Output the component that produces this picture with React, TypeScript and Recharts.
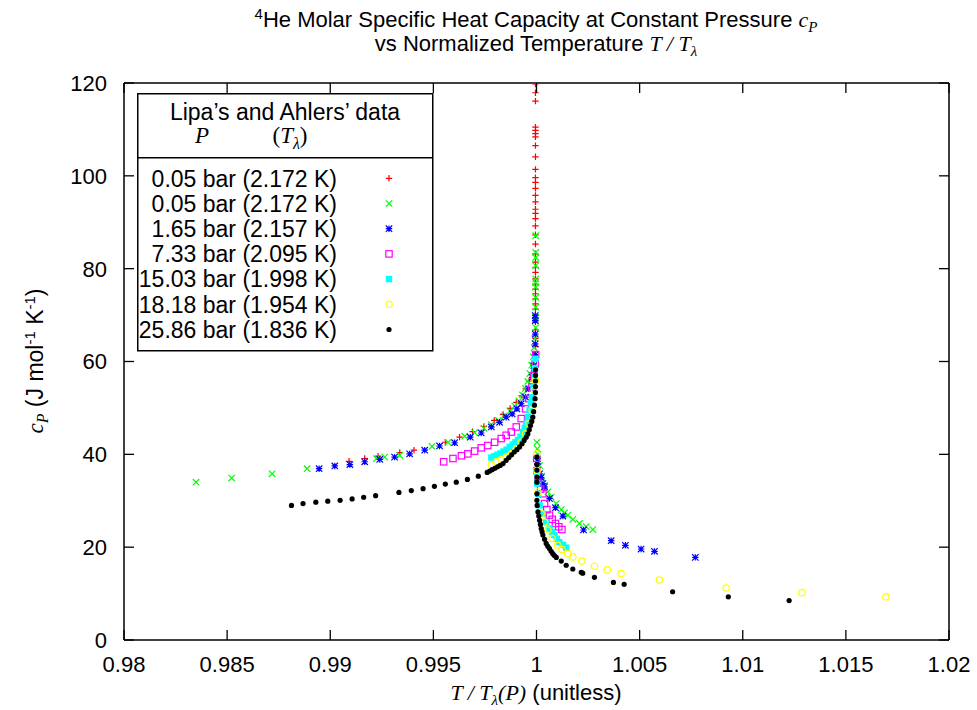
import React from 'react';
import { ScatterChart, Scatter, XAxis, YAxis, Legend } from 'recharts';

const X_TICKS = [0.98, 0.985, 0.99, 0.995, 1, 1.005, 1.01, 1.015, 1.02];
const X_TICK_LABELS = ['0.98', '0.985', '0.99', '0.995', '1', '1.005', '1.01', '1.015', '1.02'];
const Y_TICKS = [0, 20, 40, 60, 80, 100, 120];
const Y_TICK_LABELS = ['0', '20', '40', '60', '80', '100', '120'];

// Lipa 0.05 bar (+)
const lipa005: [number, number][] = [
  [0.99091, 38.5], [0.99167, 39.1], [0.99232, 39.6], [0.99337, 40.4], [0.99406, 40.9],
  [0.99558, 42.6], [0.99627, 43.7], [0.9969, 44.9], [0.99745, 46.0], [0.99795, 47.3],
  [0.99838, 48.6], [0.99872, 49.9], [0.99902, 51.2], [0.99928, 52.6], [0.99948, 54.1],
  [0.99964, 55.8], [0.99976, 57.6], [0.99985, 59.4], [0.99991, 61.3],
  [0.99995, 63.2], [0.99995, 65.0], [0.99995, 66.8], [0.99995, 68.5], [0.99995, 70.1],
  [0.99995, 71.3], [0.99995, 72.4], [0.99995, 73.5], [0.99995, 74.6], [0.99995, 75.6],
  [0.99995, 76.7], [0.99995, 77.8], [0.99995, 79.2], [0.99995, 80.3], [0.99995, 81.4],
  [0.99995, 83.2], [0.99995, 85.3], [0.99995, 87.3], [0.99995, 89.2], [0.99995, 90.8],
  [0.99995, 91.9], [0.99995, 92.8], [0.99995, 94.4], [0.99995, 95.8], [0.99995, 97.3],
  [0.99995, 98.6], [0.99995, 99.6], [0.99995, 101.4], [0.99995, 104.1], [0.99995, 106.5],
  [0.99995, 108.4], [0.99995, 109.1], [0.99995, 109.8], [0.99995, 110.5], [0.99995, 116.1],
  [0.99995, 117.9], [0.99995, 119.8],
];

// Ahlers 0.05 bar (x)
const ahlers005: [number, number][] = [
  [0.98349, 34.0], [0.98522, 34.9], [0.98718, 35.8], [0.98888, 36.9], [0.99224, 39.1],
  [0.99264, 39.4], [0.99337, 39.8], [0.99493, 41.7], [0.99571, 42.6], [0.99652, 43.9],
  [0.997, 44.7], [0.99745, 45.6], [0.99781, 46.4], [0.99815, 47.3], [0.99845, 48.3],
  [0.99872, 49.3], [0.99895, 50.4], [0.99915, 51.5], [0.99932, 52.8], [0.99946, 54.2],
  [0.99958, 55.7], [0.99968, 57.4], [0.99977, 59.2], [0.99984, 61.0], [0.99989, 63.0],
  [0.99993, 65.0], [0.99996, 67.3], [0.99996, 69.5], [0.99996, 71.7], [0.99996, 73.8],
  [0.99996, 76.0], [0.99996, 77.0], [0.99996, 77.8], [0.99996, 80.6], [0.99996, 82.4],
  [0.99996, 83.5], [0.99996, 87.1],
  [1.00002, 42.6], [1.00004, 41.2], [1.00007, 40.0], [1.00015, 37.6], [1.00025, 35.3],
  [1.00039, 33.3], [1.00055, 31.9], [1.00071, 30.8], [1.00096, 29.4], [1.0012, 28.1],
  [1.00136, 27.4], [1.00152, 26.9], [1.00176, 26.0], [1.00208, 25.1], [1.00241, 24.4],
  [1.00273, 23.8],
];

// 1.65 bar (*)
const ahlers165: [number, number][] = [
  [0.98946, 36.9], [0.99022, 37.5], [0.99095, 37.8], [0.99167, 38.4], [0.9924, 38.9],
  [0.99312, 39.4], [0.99385, 40.1], [0.99458, 40.9], [0.9953, 41.8], [0.99603, 42.5],
  [0.99679, 43.7], [0.99732, 44.6], [0.99781, 45.9], [0.99821, 46.9], [0.99853, 48.0],
  [0.99882, 48.7], [0.99905, 49.8], [0.99926, 50.9], [0.99947, 52.3], [0.99963, 54.1],
  [0.99979, 56.6], [0.99987, 59.1], [0.99994, 61.5], [0.99994, 63.8], [0.99994, 65.9],
  [0.99994, 68.8], [0.99994, 69.9],
  [1.00005, 38.5], [1.00015, 35.8], [1.00023, 35.0], [1.00031, 33.7], [1.00039, 33.0],
  [1.00063, 30.5], [1.00092, 28.5], [1.00128, 26.7], [1.00228, 23.7], [1.00362, 21.4],
  [1.00431, 20.4], [1.00507, 19.6], [1.00572, 19.1], [1.0077, 17.8],
];

// 7.33 bar (open square)
const ahlers733: [number, number][] = [
  [0.9955, 38.4], [0.99595, 39.1], [0.99636, 39.7], [0.99667, 40.1], [0.997, 40.7],
  [0.99732, 41.4], [0.99764, 41.9], [0.99797, 42.6], [0.99829, 43.4], [0.99853, 44.1],
  [0.99878, 44.8], [0.99902, 45.9], [0.99926, 47.7], [0.99947, 49.8], [0.99963, 52.0],
  [0.99978, 54.5], [0.99988, 57.0], [0.99994, 59.5], [0.99996, 61.5],
  [1.00001, 39.1], [1.00003, 36.5], [1.00007, 34.0], [1.0002, 32.5], [1.00031, 31.5],
  [1.00039, 29.4], [1.0005, 28.1], [1.00063, 26.9], [1.00076, 26.0], [1.00092, 25.1],
  [1.00108, 24.4], [1.00123, 23.8],
];

// 15.03 bar (filled square)
const ahlers1503: [number, number][] = [
  [0.99781, 39.3], [0.99795, 39.6], [0.9981, 39.9], [0.99825, 40.2], [0.9984, 40.6],
  [0.99855, 41.0], [0.9987, 41.6], [0.99885, 42.1], [0.99898, 42.6], [0.9991, 43.1],
  [0.99922, 43.8], [0.99934, 44.8], [0.99943, 45.7], [0.9995, 46.6], [0.99958, 48.0],
  [0.99966, 49.5], [0.99973, 51.0], [0.99979, 52.3], [0.99985, 54.5], [0.9999, 56.6],
  [0.99993, 58.6], [0.99995, 60.6],
  [1.00002, 36.0], [1.00003, 33.7], [1.00008, 31.5], [1.00015, 29.0], [1.00031, 27.2],
  [1.00047, 25.4], [1.00063, 24.0], [1.00075, 23.3], [1.00087, 22.6], [1.00099, 21.8],
  [1.00111, 21.1], [1.00128, 20.5], [1.00144, 19.9],
];

// 18.18 bar (open circle)
const ahlers1818: [number, number][] = [
  [0.99781, 37.8], [0.99805, 38.4], [0.99829, 38.9], [0.99853, 39.4], [0.99878, 40.1],
  [0.99902, 41.2], [0.99926, 42.6], [0.99947, 44.4], [0.99963, 46.6], [0.99979, 49.5],
  [0.9999, 53.8], [0.99995, 55.9],
  [1.00001, 40.1], [1.00003, 36.5], [1.00007, 31.9], [1.00023, 27.2], [1.00039, 25.4],
  [1.00055, 23.7], [1.00076, 21.9], [1.00103, 20.4], [1.00124, 19.5], [1.00152, 18.6],
  [1.00176, 17.9], [1.0022, 17.0], [1.00281, 15.9], [1.00343, 15.1], [1.0041, 14.3],
  [1.00596, 12.9], [1.0092, 11.2], [1.01287, 10.2], [1.01694, 9.3],
];

// 25.86 bar (filled circle)
const ahlers2586: [number, number][] = [
  [0.98812, 29.0], [0.98868, 29.4], [0.9893, 29.7], [0.98988, 29.9], [0.99048, 30.1],
  [0.99106, 30.4], [0.99162, 30.75], [0.9922, 31.1], [0.99333, 31.8], [0.99393, 32.2],
  [0.9945, 32.6], [0.99505, 33.1], [0.99558, 33.6], [0.99611, 34.0], [0.99665, 34.6],
  [0.99718, 35.3], [0.99761, 36.1], [0.99773, 36.4], [0.99785, 36.7], [0.99798, 37.0],
  [0.99811, 37.3], [0.99824, 37.6], [0.99838, 38.0], [0.99853, 38.7], [0.99866, 39.3],
  [0.99879, 39.9], [0.99892, 40.5], [0.99905, 41.0], [0.99918, 41.6], [0.9993, 42.3],
  [0.9994, 43.0], [0.9995, 43.7], [0.99958, 44.4], [0.99965, 45.3], [0.99971, 46.2],
  [0.99977, 47.1], [0.99982, 48.0], [0.99986, 49.2], [0.9999, 50.6], [0.99993, 52.0],
  [0.99995, 53.3], [0.99995, 54.6], [0.99995, 55.8], [0.99995, 57.0], [0.99995, 58.2],
  [1.00002, 39.4], [1.00002, 37.8], [1.00002, 36.6], [1.00002, 35.1], [1.00002, 34.0],
  [1.00002, 31.5], [1.00002, 30.1], [1.00003, 29.0], [1.00007, 27.6], [1.00011, 26.7],
  [1.00015, 25.8], [1.00019, 24.9], [1.00023, 24.0], [1.00027, 23.3], [1.00031, 22.6],
  [1.00039, 21.7], [1.00047, 20.8], [1.00055, 20.2], [1.00063, 19.7], [1.00071, 19.1],
  [1.00079, 18.6], [1.00087, 18.2], [1.00096, 17.8], [1.0012, 17.0], [1.00144, 16.1],
  [1.00176, 15.3], [1.00217, 14.6], [1.00224, 14.4], [1.00281, 13.5], [1.00373, 12.4],
  [1.00425, 12.0], [1.0066, 10.4], [1.0093, 9.3], [1.01225, 8.5],
];

type Kind = 'plus' | 'cross' | 'star' | 'square' | 'fsquare' | 'circle' | 'fcircle';

const SERIES: { name: string; data: [number, number][]; color: string; kind: Kind }[] = [
  { name: '0.05 bar (2.172 K)', data: lipa005, color: '#ff0000', kind: 'plus' },
  { name: '0.05 bar (2.172 K)', data: ahlers005, color: '#00ff00', kind: 'cross' },
  { name: '1.65 bar (2.157 K)', data: ahlers165, color: '#0000ff', kind: 'star' },
  { name: '7.33 bar (2.095 K)', data: ahlers733, color: '#ff00ff', kind: 'square' },
  { name: '15.03 bar (1.998 K)', data: ahlers1503, color: '#00ffff', kind: 'fsquare' },
  { name: '18.18 bar (1.954 K)', data: ahlers1818, color: '#ffff00', kind: 'circle' },
  { name: '25.86 bar (1.836 K)', data: ahlers2586, color: '#000000', kind: 'fcircle' },
];

const SANS = "'Liberation Sans', Arial, Helvetica, sans-serif";
const SERIF = "'Liberation Serif', 'Times New Roman', serif";
const FS = 22;
const LFS = 23;

function Marker({ kind, cx, cy, color }: { kind: Kind; cx: number; cy: number; color: string }) {
  if (cx == null || cy == null || isNaN(cx) || isNaN(cy)) return null;
  const s = 3.2;
  switch (kind) {
    case 'plus':
      return <path d={`M${cx - s},${cy}H${cx + s}M${cx},${cy - s}V${cy + s}`} stroke={color} strokeWidth={1.2} fill="none" />;
    case 'cross':
      return <path d={`M${cx - s},${cy - s}L${cx + s},${cy + s}M${cx - s},${cy + s}L${cx + s},${cy - s}`} stroke={color} strokeWidth={1.2} fill="none" />;
    case 'star':
      return <path d={`M${cx - s},${cy}H${cx + s}M${cx},${cy - s}V${cy + s}M${cx - s},${cy - s}L${cx + s},${cy + s}M${cx - s},${cy + s}L${cx + s},${cy - s}`} stroke={color} strokeWidth={1.2} fill="none" />;
    case 'square':
      return <rect x={cx - s} y={cy - s} width={2 * s} height={2 * s} stroke={color} strokeWidth={1.2} fill="none" />;
    case 'fsquare':
      return <rect x={cx - s} y={cy - s} width={2 * s} height={2 * s} fill={color} />;
    case 'circle':
      return <circle cx={cx} cy={cy} r={s} stroke={color} strokeWidth={1.2} fill="none" />;
    case 'fcircle':
      return <circle cx={cx} cy={cy} r={2.6} fill={color} />;
  }
  return null;
}

const toPts = (arr: [number, number][]) => arr.map(([x, y]) => ({ x, y }));

const LeftTick = (props: any) => {
  const { x, y, payload } = props;
  const i = Y_TICKS.indexOf(payload.value);
  return (
    <g>
      <text x={x - 17} y={y} dy="0.36em" textAnchor="end" fontSize={FS} fontFamily={SANS} fill="#000">
        {i >= 0 ? Y_TICK_LABELS[i] : String(payload.value)}
      </text>
      <line x1={x} x2={x + 10} y1={y} y2={y} stroke="#000" strokeWidth={1.3} />
    </g>
  );
};
const RightTick = (props: any) => {
  const { x, y } = props;
  return <line x1={x - 10} x2={x} y1={y} y2={y} stroke="#000" strokeWidth={1.3} />;
};
const BottomTick = (props: any) => {
  const { x, y, payload } = props;
  const i = X_TICKS.findIndex((t) => Math.abs(t - payload.value) < 1e-9);
  return (
    <g>
      <text x={x} y={y + 24} dy="0.36em" textAnchor="middle" fontSize={FS} fontFamily={SANS} fill="#000">
        {i >= 0 ? X_TICK_LABELS[i] : String(payload.value)}
      </text>
      <line x1={x} x2={x} y1={y - 10} y2={y} stroke="#000" strokeWidth={1.3} />
    </g>
  );
};
const TopTick = (props: any) => {
  const { x, y } = props;
  return <line x1={x} x2={x} y1={y} y2={y + 10} stroke="#000" strokeWidth={1.3} />;
};

const LegendBox = () => {
  const rowY = [85.3, 110.5, 135.7, 160.9, 186.1, 211.3, 236.5];
  return (
    <svg width={297} height={259} style={{ overflow: 'visible' }}>
      <rect x={0.75} y={0.75} width={295} height={257} fill="none" stroke="#000" strokeWidth={1.5} />
      <line x1={0.75} x2={295.75} y1={64.7} y2={64.7} stroke="#000" strokeWidth={1.5} />
      <text x={148} y={27} textAnchor="middle" fontSize={LFS} fontFamily={SANS} fill="#000">
        Lipa’s and Ahlers’ data
      </text>
      <text x={65} y={50} textAnchor="middle" fontSize={LFS} fontFamily={SERIF} fontStyle="italic" fill="#000">
        P
      </text>
      <text x={153} y={50} textAnchor="middle" fontSize={LFS} fontFamily={SERIF} fill="#000">
        <tspan>(</tspan>
        <tspan fontStyle="italic">T</tspan>
        <tspan fontStyle="italic" fontSize={16} dy={6}>λ</tspan>
        <tspan dy={-6}>)</tspan>
      </text>
      {SERIES.map((s, i) => (
        <g key={i}>
          <text x={200} y={rowY[i]} dy="0.36em" textAnchor="end" fontSize={LFS} fontFamily={SANS} fill="#000">
            {s.name}
          </text>
          <Marker kind={s.kind} cx={252} cy={rowY[i]} color={s.color} />
        </g>
      ))}
    </svg>
  );
};

export default function App() {
  return (
    <div style={{ position: 'absolute', left: 0, top: 0, width: 977, height: 710, background: '#fff' }}>
      <ScatterChart width={977} height={710} margin={{ top: 0, right: 0, bottom: 0, left: 0 }}>
        <XAxis
          xAxisId="bottom"
          type="number"
          dataKey="x"
          orientation="bottom"
          domain={[0.98, 1.02]}
          ticks={X_TICKS}
          allowDataOverflow
          height={70}
          tickSize={0}
          tickMargin={0}
          tickLine={false}
          axisLine={{ stroke: '#000', strokeWidth: 1.5 }}
          tick={<BottomTick />}
          interval={0}
        />
        <XAxis
          xAxisId="top"
          type="number"
          dataKey="x"
          orientation="top"
          domain={[0.98, 1.02]}
          ticks={X_TICKS}
          allowDataOverflow
          height={83}
          tickSize={0}
          tickMargin={0}
          tickLine={false}
          axisLine={{ stroke: '#000', strokeWidth: 1.5 }}
          tick={<TopTick />}
          interval={0}
        />
        <YAxis
          yAxisId="left"
          type="number"
          dataKey="y"
          orientation="left"
          domain={[0, 120]}
          ticks={Y_TICKS}
          allowDataOverflow
          width={124}
          tickSize={0}
          tickMargin={0}
          tickLine={false}
          axisLine={{ stroke: '#000', strokeWidth: 1.5 }}
          tick={<LeftTick />}
          interval={0}
        />
        <YAxis
          yAxisId="right"
          type="number"
          dataKey="y"
          orientation="right"
          domain={[0, 120]}
          ticks={Y_TICKS}
          allowDataOverflow
          width={28}
          tickSize={0}
          tickMargin={0}
          tickLine={false}
          axisLine={{ stroke: '#000', strokeWidth: 1.5 }}
          tick={<RightTick />}
          interval={0}
        />
        {SERIES.map((s, i) => (
          <Scatter
            key={i}
            name={s.name}
            data={toPts(s.data)}
            xAxisId="bottom"
            yAxisId="left"
            fill={s.color}
            isAnimationActive={false}
            shape={(p: any) => <Marker kind={s.kind} cx={p.cx} cy={p.cy} color={s.color} />}
          />
        ))}
        <Legend
          layout="horizontal"
          verticalAlign="middle"
          align="center"
          content={<LegendBox />}
          wrapperStyle={{ left: 137, top: 93, width: 297, height: 259 }}
        />
      </ScatterChart>
      <svg width={977} height={710} style={{ position: 'absolute', left: 0, top: 0, pointerEvents: 'none' }}>
        <text x={536} y={27} textAnchor="middle" fontSize={FS} fontFamily={SANS} fill="#000">
          <tspan fontSize={15} dy={-8}>4</tspan>
          <tspan dy={8}>He Molar Specific Heat Capacity at Constant Pressure </tspan>
          <tspan fontFamily={SERIF} fontStyle="italic">c</tspan>
          <tspan fontFamily={SERIF} fontStyle="italic" fontSize={15} dy={5}>P</tspan>
        </text>
        <text x={536} y={51} textAnchor="middle" fontSize={FS} fontFamily={SANS} fill="#000">
          <tspan>vs Normalized Temperature </tspan>
          <tspan fontFamily={SERIF} fontStyle="italic">T / T</tspan>
          <tspan fontFamily={SERIF} fontStyle="italic" fontSize={15} dy={5}>λ</tspan>
        </text>
        <text x={536} y={700} textAnchor="middle" fontSize={FS} fontFamily={SANS} fill="#000">
          <tspan fontFamily={SERIF} fontStyle="italic">T / T</tspan>
          <tspan fontFamily={SERIF} fontStyle="italic" fontSize={15} dy={5}>λ</tspan>
          <tspan fontFamily={SERIF} fontStyle="italic" dy={-5}>(P)</tspan>
          <tspan> (unitless)</tspan>
        </text>
        <text transform="translate(43,361) rotate(-90)" textAnchor="middle" fontSize={23} fontFamily={SANS} fill="#000">
          <tspan fontFamily={SERIF} fontStyle="italic">c</tspan>
          <tspan fontFamily={SERIF} fontStyle="italic" fontSize={16} dy={5}>P</tspan>
          <tspan dy={-5}> (J mol</tspan>
          <tspan fontSize={15} dy={-8}>-1</tspan>
          <tspan dy={8}> K</tspan>
          <tspan fontSize={15} dy={-8}>-1</tspan>
          <tspan dy={8}>)</tspan>
        </text>
      </svg>
    </div>
  );
}
